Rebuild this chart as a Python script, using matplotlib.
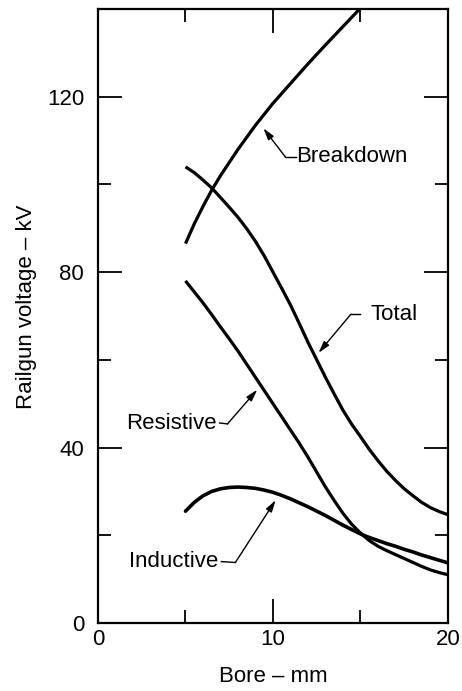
import matplotlib
matplotlib.use("Agg")
import matplotlib.pyplot as plt
from matplotlib.ticker import MultipleLocator

plt.rcParams['font.family'] = ['Liberation Sans', 'DejaVu Sans']

# Bore diameter (mm)
bore = [5, 5.5, 6, 6.5, 7, 7.5, 8, 8.5, 9, 9.5, 10, 10.5, 11, 11.5, 12, 12.5,
        13, 13.5, 14, 14.5, 15, 15.5, 16, 16.5, 17, 17.5, 18, 18.5, 19, 19.5, 20]

# Railgun voltages (kV)
breakdown_bore = [5, 5.5, 6, 6.5, 7, 7.5, 8, 9, 10, 11, 12, 13, 14, 15]
breakdown = [86.5, 91, 95, 98.7, 102, 105, 108, 113.5, 118.5, 123, 127.5, 131.8, 136, 140.2]
total = [104, 102.7, 101, 99.2, 97, 94.8, 92.5, 89.9, 87, 83.7, 80, 76.3, 72.5, 68.3,
         64, 60, 56, 52.2, 48.5, 45.3, 42.5, 39.6, 37, 34.6, 32.5, 30.6, 29, 27.5,
         26.3, 25.4, 24.7]
resistive = [78, 75.5, 73, 70.3, 67.5, 64.8, 62, 59, 56, 53, 50, 47, 44, 41, 37.8,
             34.4, 31, 27.9, 25, 22.5, 20.5, 18.8, 17.5, 16.5, 15.6, 14.7, 13.8,
             12.9, 12.1, 11.5, 11]
inductive = [25.5, 27.5, 29, 30, 30.6, 30.9, 31, 30.9, 30.7, 30.3, 29.8, 29.1, 28.3,
             27.4, 26.5, 25.5, 24.5, 23.4, 22.3, 21.3, 20.3, 19.5, 18.8, 18.1, 17.5,
             16.8, 16.2, 15.5, 14.9, 14.3, 13.7]

# Curve labels: text anchor and alignment, leader start, leader elbow, arrow tip (data units)
labels = {
    "Breakdown": dict(text=(11.35, 106.3), ha='left', start=11.3, elbow=(10.7, 106.3), tip=(9.45, 112.8)),
    "Total": dict(text=(15.55, 70.4), ha='left', start=15.0, elbow=(14.45, 70.4), tip=(12.6, 61.6)),
    "Resistive": dict(text=(6.8, 45.6), ha='right', start=6.95, elbow=(7.4, 45.4), tip=(9.1, 53.2)),
    "Inductive": dict(text=(6.9, 14.0), ha='right', start=7.05, elbow=(7.85, 13.8), tip=(10.15, 28.0)),
}

fig = plt.figure(figsize=(4.62, 6.91), dpi=100)
ax = fig.add_axes([0.2121, 0.0984, 0.7576, 0.8886])

lw = 2.3
ax.plot(breakdown_bore, breakdown, color='black', lw=lw, solid_capstyle='butt')
ax.plot(bore, total, color='black', lw=lw, solid_capstyle='butt')
ax.plot(bore, resistive, color='black', lw=lw, solid_capstyle='butt')
ax.plot(bore, inductive, color='black', lw=2.6, solid_capstyle='round')

for name, spec in labels.items():
    tx, ty = spec["text"]
    ex, ey = spec["elbow"]
    px, py = spec["tip"]
    ax.text(tx, ty, name, fontsize=16, ha=spec["ha"], va='center', color='black')
    ax.plot([spec["start"], ex], [ty, ey], color='black', lw=1.0)
    ax.annotate('', xy=(px, py), xytext=(ex, ey),
                arrowprops=dict(arrowstyle='-|>,head_length=0.7,head_width=0.2',
                                color='black', lw=1.0, shrinkA=0, shrinkB=0))

ax.set_xlim(0, 20)
ax.set_ylim(0, 140)
ax.xaxis.set_major_locator(MultipleLocator(10))
ax.xaxis.set_minor_locator(MultipleLocator(5))
ax.yaxis.set_major_locator(MultipleLocator(40))
ax.yaxis.set_minor_locator(MultipleLocator(20))

ax.tick_params(which='both', direction='in', top=True, right=True,
               width=1.3, colors='black', labelsize=16)
ax.tick_params(which='major', length=17)
ax.tick_params(which='minor', length=9.5)
ax.tick_params(axis='y', which='major', pad=10)
ax.tick_params(axis='x', which='major', pad=4)

for s in ax.spines.values():
    s.set_linewidth(1.6)
    s.set_color('black')

ax.set_xlabel('Bore – mm', fontsize=16, labelpad=12)
ax.set_ylabel('Railgun voltage – kV', fontsize=16)
ax.yaxis.set_label_coords(-0.175, 0.515)

fig.savefig('out.png', dpi=100)
